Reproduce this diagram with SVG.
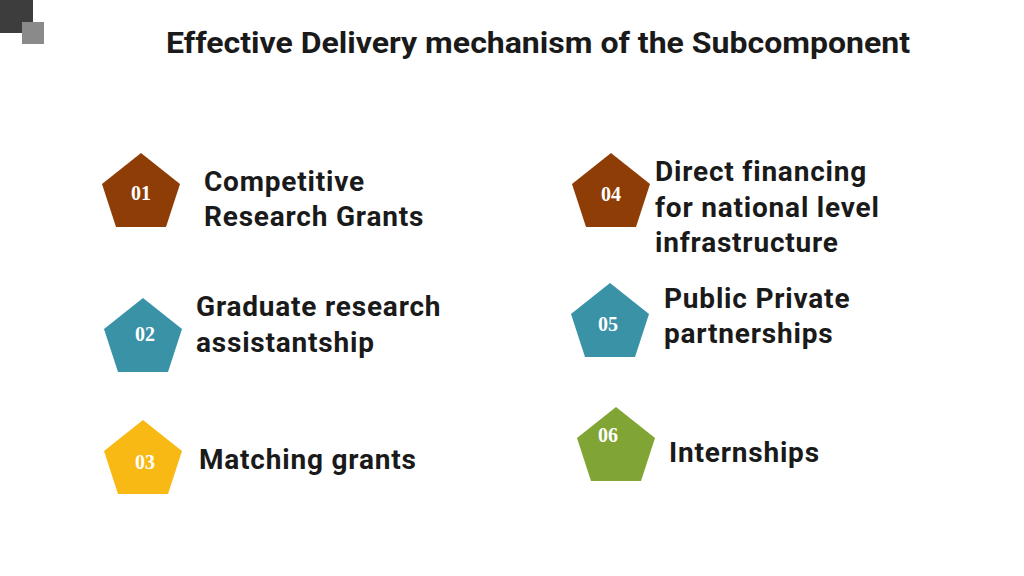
<svg xmlns="http://www.w3.org/2000/svg" width="1024" height="576" viewBox="0 0 1024 576">
<style>
.t{font-family:Roboto,"Liberation Sans",sans-serif;font-weight:bold;font-size:28px;letter-spacing:0.8px;fill:#1a1a1a}
.h{font-family:Roboto,"Liberation Sans",sans-serif;font-weight:bold;font-size:29px;fill:#1a1a1a}
.n{font-family:"Liberation Serif",serif;font-weight:bold;font-size:20px;fill:#fff;text-anchor:middle}
.br{fill:#8e3d07}.bl{fill:#3a92a7}.ye{fill:#f9b915}.gr{fill:#80a534}
</style>
<defs><polygon id="p" points="0,-38 39,-7 25,36 -25,36 -39,-7"/></defs>
<rect width="1024" height="576" fill="#fff"/>
<rect x="0" y="0" width="33" height="33" fill="#3d3d3d"/>
<rect x="22" y="22" width="22" height="22" fill="#8a8a8a"/>
<text x="166" y="53" class="h" textLength="744" lengthAdjust="spacingAndGlyphs">Effective Delivery mechanism of the Subcomponent</text>
<g id="n1"><use href="#p" x="141" y="191" class="br"/><text x="141" y="200" class="n">01</text>
<text class="t" x="204" y="191">Competitive</text><text class="t" x="204" y="226">Research Grants</text></g>
<g id="n2"><use href="#p" x="143" y="336" class="bl"/><text x="145" y="341" class="n">02</text>
<text class="t" x="196" y="316">Graduate research</text><text class="t" x="196" y="352">assistantship</text></g>
<g id="n3"><use href="#p" x="143" y="458" class="ye"/><text x="145" y="469" class="n">03</text>
<text class="t" x="199" y="469">Matching grants</text></g>
<g id="n4"><use href="#p" x="611" y="191" class="br"/><text x="611" y="201" class="n">04</text>
<text class="t" x="655" y="181">Direct financing</text><text class="t" x="655" y="217">for national level</text><text class="t" x="655" y="252">infrastructure</text></g>
<g id="n5"><use href="#p" x="610" y="321" class="bl"/><text x="608" y="331" class="n">05</text>
<text class="t" x="664" y="308">Public Private</text><text class="t" x="664" y="343">partnerships</text></g>
<g id="n6"><use href="#p" x="616" y="445" class="gr"/><text x="608" y="442" class="n">06</text>
<text class="t" x="669" y="462">Internships</text></g>
<g id="connectors"/>
</svg>
